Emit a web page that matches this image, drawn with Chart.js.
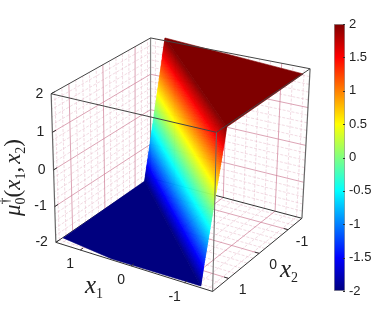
<!DOCTYPE html>
<html>
<head>
<meta charset="utf-8">
<style>
  html, body { margin: 0; padding: 0; background: #fff; }
  #wrap { position: relative; width: 392px; height: 327px; overflow: hidden; }
  canvas { position: absolute; top: 0; }
  #plot { left: 0; }
  #bar { left: 330px; }
</style>
<script src="https://cdn.jsdelivr.net/npm/chart.js@4/dist/chart.umd.min.js"></script>
</head>
<body>
<div id="wrap">
  <canvas id="plot" width="392" height="327"></canvas>
  <canvas id="bar" width="62" height="327"></canvas>
</div>
<script>
// axis ticks
const x1Ticks = [-1, 0, 1];
const x2Ticks = [-1, 0, 1];
const zTicks = [-2, -1, 0, 1, 2];
const x1Minor = [-1.4, -1.2, -0.8, -0.6, -0.4, -0.2, 0.2, 0.4, 0.6, 0.8, 1.2, 1.4];
const x2Minor = [-1.4, -1.2, -0.8, -0.6, -0.4, -0.2, 0.2, 0.4, 0.6, 0.8, 1.2, 1.4];
const zMinor = [-1.8, -1.6, -1.4, -1.2, -0.8, -0.6, -0.4, -0.2, 0.2, 0.4, 0.6, 0.8, 1.2, 1.4, 1.6, 1.8];
const cbTicks = [-2, -1.5, -1, -0.5, 0, 0.5, 1, 1.5, 2];
const cbRange = [-2, 2];

// surface: flat low part, ramp rows, flat high part
const lowX1 = [1.49, 0.4, -1.26, 1.52];
const lowX2 = [1.30, 1.47, 1.45, -1.34];
const highX1 = [1.28, -1.51, -1.53];
const highX2 = [-1.62, -1.24, 1.25];
const rampZ = [-2, -1.5, -0.5, 0.5, 1.5, 2];
const rampLeftX1 = [1.52, 1.49, 1.43, 1.37, 1.31, 1.28];
const rampLeftX2 = [-1.34, -1.375, -1.445, -1.515, -1.585, -1.62];
const rampRightX1 = [-1.26, -1.29, -1.36, -1.43, -1.50, -1.53];
const rampRightX2 = [1.45, 1.425, 1.375, 1.325, 1.275, 1.25];

// jet colours at the rampZ levels
const jetColors = [[0, 0, 127], [0, 0, 255], [0, 255, 255], [255, 255, 0], [255, 0, 0], [127, 0, 0]];

const LIM = 1.5;
const ZLIM = 2;

// perspective camera, fitted to the box corners
function project(x1, x2, z) {
  const a = x1 / LIM, b = x2 / LIM, c = z / ZLIM;
  const w = 1 + 0.04 * a - 0.041 * b - 0.0254 * c;
  return {
    x: (179.87 - 71.79 * a - 54.56 * b - 3.705 * c) / w,
    y: (157.66 - 13.5 * a + 25.6 * b - 78.5 * c) / w
  };
}

const layers = []; // in paint order, first one at the back

function line(pts, color, width, dash) {
  layers.push({
    type: 'scatter', showLine: true, pointRadius: 0, tension: 0,
    data: pts.map(p => project(p[0], p[1], p[2])),
    borderColor: color, borderWidth: width, borderDash: dash || []
  });
}
function poly(pts, fillColor) {
  layers.push({
    type: 'scatter', showLine: false, pointRadius: 0,
    data: pts.map(p => project(p[0], p[1], p[2])),
    polyFill: fillColor
  });
}
function labels(pts, texts, dx, dy, align) {
  layers.push({
    type: 'scatter', showLine: false, pointRadius: 0,
    data: pts.map(p => project(p[0], p[1], p[2])),
    texts: texts, dx: dx, dy: dy, align: align
  });
}

const MAJOR = 'rgba(205,125,150,0.7)';
const MINOR = 'rgba(225,170,188,0.42)';

// floor and the two back walls
function gridLines(ticks, color, width, dash) {
  ticks.x1.forEach(v => {
    line([[v, -LIM, -ZLIM], [v, LIM, -ZLIM]], color, width, dash);
    line([[v, -LIM, -ZLIM], [v, -LIM, ZLIM]], color, width, dash);
  });
  ticks.x2.forEach(v => {
    line([[-LIM, v, -ZLIM], [LIM, v, -ZLIM]], color, width, dash);
    line([[LIM, v, -ZLIM], [LIM, v, ZLIM]], color, width, dash);
  });
  ticks.z.forEach(v => {
    line([[LIM, -LIM, v], [LIM, LIM, v]], color, width, dash);
    line([[-LIM, -LIM, v], [LIM, -LIM, v]], color, width, dash);
  });
}
gridLines({ x1: x1Minor, x2: x2Minor, z: zMinor }, MINOR, 1, [3, 1.5]);
gridLines({ x1: x1Ticks, x2: x2Ticks, z: zTicks.slice(1, 4) }, MAJOR, 1);

// back edges of the box
const BACK = '#666';
line([[LIM, -LIM, -ZLIM], [-LIM, -LIM, -ZLIM]], '#333', 1);
line([[LIM, LIM, -ZLIM], [LIM, -LIM, -ZLIM]], '#333', 1);
line([[LIM, -LIM, -ZLIM], [LIM, -LIM, ZLIM]], '#888', 1.2);
line([[LIM, LIM, -ZLIM], [LIM, LIM, ZLIM]], BACK, 1.2);
line([[-LIM, -LIM, -ZLIM], [-LIM, -LIM, ZLIM]], BACK, 1.2);

// surface
poly(lowX1.map((v, i) => [v, lowX2[i], -2]), 'rgb(0,0,127)');
poly(highX1.map((v, i) => [v, highX2[i], 2]), 'rgb(127,0,0)');
rampZ.slice(0, -1).forEach((z, i) => {
  layers.push({
    type: 'scatter', showLine: false, pointRadius: 0,
    data: [
      project(rampLeftX1[i], rampLeftX2[i], z),
      project(rampRightX1[i], rampRightX2[i], z),
      project(rampRightX1[i + 1], rampRightX2[i + 1], rampZ[i + 1]),
      project(rampLeftX1[i + 1], rampLeftX2[i + 1], rampZ[i + 1])
    ],
    colorLo: jetColors[i], colorHi: jetColors[i + 1]
  });
});

// front edges of the box
const EDGE = '#444';
line([[LIM, LIM, ZLIM], [-LIM, LIM, ZLIM]], EDGE, 1);
line([[-LIM, LIM, ZLIM], [-LIM, -LIM, ZLIM]], EDGE, 1);
line([[LIM, LIM, ZLIM], [LIM, -LIM, ZLIM]], EDGE, 1);
line([[LIM, -LIM, ZLIM], [-LIM, -LIM, ZLIM]], EDGE, 1);
line([[-LIM, LIM, -ZLIM], [-LIM, LIM, ZLIM]], BACK, 1);
line([[LIM, LIM, -ZLIM], [-LIM, LIM, -ZLIM]], '#333', 1);
line([[-LIM, LIM, -ZLIM], [-LIM, -LIM, -ZLIM]], '#333', 1);

// tick marks and tick labels
x1Ticks.forEach(v => line([[v, LIM, -ZLIM], [v, LIM - 0.08, -ZLIM]], '#333', 1));
x2Ticks.forEach(v => line([[-LIM, v, -ZLIM], [-LIM + 0.08, v, -ZLIM]], '#333', 1));
zTicks.forEach(v => line([[LIM, LIM, v], [LIM, LIM - 0.1, v]], '#333', 1));
labels(x1Ticks.map(v => [v, LIM, -ZLIM]), x1Ticks.map(String), -10, 14, 'center');
labels(x2Ticks.map(v => [-LIM, v, -ZLIM]), x2Ticks.map(String), 14, 12, 'center');
labels(zTicks.map(v => [LIM, LIM, v]), zTicks.map(String), -8, 0, 'right');

// ramp is drawn in thin solid slices so the colours stay on the z levels
const SLICES = 30;
function drawRampStrip(ctx, pts, lo, hi) {
  const lerp = (p, q, t) => ({ x: p.x + (q.x - p.x) * t, y: p.y + (q.y - p.y) * t });
  for (let s = 0; s < SLICES; s++) {
    const t0 = s / SLICES, t1 = (s + 1) / SLICES, tm = (s + 0.5) / SLICES;
    const rgb = lo.map((c, k) => Math.round(c + (hi[k] - c) * tm));
    const a = lerp(pts[0], pts[3], t0), b = lerp(pts[1], pts[2], t0);
    const c = lerp(pts[1], pts[2], t1), d = lerp(pts[0], pts[3], t1);
    ctx.fillStyle = ctx.strokeStyle = 'rgb(' + rgb.join(',') + ')';
    ctx.lineWidth = 0.6;
    ctx.beginPath();
    ctx.moveTo(a.x, a.y); ctx.lineTo(b.x, b.y); ctx.lineTo(c.x, c.y); ctx.lineTo(d.x, d.y);
    ctx.closePath();
    ctx.fill();
    ctx.stroke();
  }
}

const surfacePainter = {
  id: 'surfacePainter',
  beforeDatasetDraw(chart, args) {
    const ds = chart.data.datasets[args.index];
    const ctx = chart.ctx;
    const pts = args.meta.data;
    if (ds.polyFill) {
      ctx.save();
      ctx.fillStyle = ctx.strokeStyle = ds.polyFill;
      ctx.lineWidth = 0.6;
      ctx.beginPath();
      pts.forEach((p, i) => i ? ctx.lineTo(p.x, p.y) : ctx.moveTo(p.x, p.y));
      ctx.closePath();
      ctx.fill();
      ctx.stroke();
      ctx.restore();
    }
    if (ds.colorLo) {
      ctx.save();
      drawRampStrip(ctx, pts, ds.colorLo, ds.colorHi);
      ctx.restore();
    }
    if (ds.texts) {
      ctx.save();
      ctx.font = '14px "Liberation Sans"';
      ctx.fillStyle = '#222';
      ctx.textAlign = ds.align;
      ctx.textBaseline = 'middle';
      pts.forEach((p, i) => ctx.fillText(ds.texts[i], p.x + ds.dx, p.y + ds.dy));
      ctx.restore();
    }
  }
};

// runs of math text, written along the rotated baseline
const ITALIC = 'italic 23px "Liberation Serif"';
const ROMAN = '23px "Liberation Serif"';
const SUB = '14px "Liberation Serif"';
const AXIS_X = 'italic 25px "Liberation Serif"';
function mathText(ctx, x, y, angle, runs) {
  ctx.save();
  ctx.translate(x, y);
  ctx.rotate(angle);
  ctx.fillStyle = '#222';
  ctx.textAlign = 'left';
  ctx.textBaseline = 'alphabetic';
  let pen = 0;
  runs.forEach(r => {
    ctx.font = r.font;
    ctx.fillText(r.t, pen, r.dy || 0);
    if (!r.still) pen += ctx.measureText(r.t).width + (r.gap || 0);
  });
  ctx.restore();
}

const axisTitles = {
  id: 'axisTitles',
  afterDraw(chart) {
    const ctx = chart.ctx;
    mathText(ctx, 85, 293, 0, [{ t: 'x', font: AXIS_X }, { t: '1', font: SUB, dy: 5 }]);
    mathText(ctx, 280, 277, 0, [{ t: 'x', font: AXIS_X }, { t: '2', font: SUB, dy: 5 }]);
    mathText(ctx, 20, 216, -Math.PI / 2, [
      { t: 'μ', font: ITALIC, gap: 0 },
      { t: '†', font: SUB, dy: -11, still: true },
      { t: '0', font: SUB, dy: 5 },
      { t: '(', font: ROMAN },
      { t: 'x', font: ITALIC },
      { t: '1', font: SUB, dy: 5 },
      { t: ',', font: ROMAN, gap: 3 },
      { t: 'x', font: ITALIC },
      { t: '2', font: SUB, dy: 5 },
      { t: ')', font: ROMAN }
    ]);
  }
};

new Chart(document.getElementById('plot').getContext('2d'), {
  type: 'scatter',
  data: { datasets: layers.reverse() }, // Chart.js paints the last dataset first
  options: {
    responsive: false,
    animation: false,
    events: [],
    layout: { padding: 0 },
    plugins: { legend: { display: false }, tooltip: { enabled: false } },
    scales: {
      x: { type: 'linear', min: 0, max: 392, display: false },
      y: { type: 'linear', min: 0, max: 327, reverse: true, display: false }
    }
  },
  plugins: [surfacePainter, axisTitles]
});

// colour bar
function jetGradient(ctx) {
  const area = ctx.chart.chartArea;
  if (!area) return '#00f';
  const g = ctx.chart.ctx.createLinearGradient(0, area.bottom, 0, area.top);
  rampZ.forEach((z, i) => {
    g.addColorStop((z - cbRange[0]) / (cbRange[1] - cbRange[0]), 'rgb(' + jetColors[i].join(',') + ')');
  });
  return g;
}

const innerTicks = {
  id: 'innerTicks',
  afterDatasetsDraw(chart) {
    const ctx = chart.ctx, area = chart.chartArea, y = chart.scales.y;
    ctx.save();
    ctx.strokeStyle = '#333';
    ctx.lineWidth = 1;
    cbTicks.forEach(v => {
      const py = Math.round(y.getPixelForValue(v)) + 0.5;
      ctx.beginPath();
      ctx.moveTo(area.right - 2, py);
      ctx.lineTo(area.right, py);
      ctx.stroke();
    });
    ctx.restore();
  }
};

new Chart(document.getElementById('bar').getContext('2d'), {
  type: 'bar',
  data: {
    labels: ['z'],
    datasets: [{
      data: [cbRange],
      backgroundColor: jetGradient,
      borderColor: '#999',
      borderWidth: 1,
      borderSkipped: false,
      barPercentage: 1,
      categoryPercentage: 1
    }]
  },
  options: {
    responsive: false,
    animation: false,
    events: [],
    layout: { padding: { left: 4, top: 24, bottom: 36, right: 0 } },
    plugins: { legend: { display: false }, tooltip: { enabled: false } },
    scales: {
      x: { display: false },
      y: {
        position: 'right',
        min: cbRange[0],
        max: cbRange[1],
        afterBuildTicks: s => { s.ticks = cbTicks.map(v => ({ value: v })); },
        afterFit: s => { s.width = 47; },
        border: { display: false },
        grid: { display: false, tickLength: 0 },
        ticks: {
          autoSkip: false, maxRotation: 0, padding: 4, color: '#222',
          font: { family: 'Liberation Sans', size: 13 },
          callback: v => String(v)
        }
      }
    }
  },
  plugins: [innerTicks]
});
</script>
</body>
</html>
